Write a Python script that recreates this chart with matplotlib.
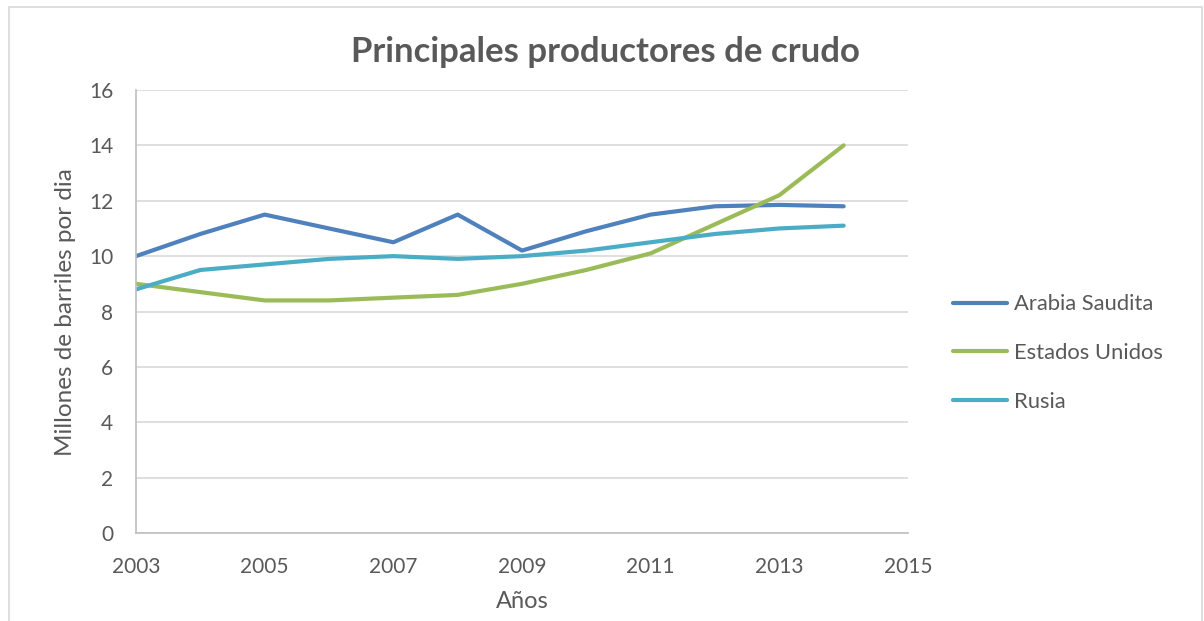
import matplotlib
matplotlib.use("Agg")
import matplotlib.pyplot as plt
from matplotlib.patches import Rectangle

# ---- data ----
years = [2003, 2004, 2005, 2006, 2007, 2008, 2009, 2010, 2011, 2012, 2013, 2014]
arabia = [10.0, 10.8, 11.5, 11.0, 10.5, 11.5, 10.2, 10.9, 11.5, 11.8, 11.85, 11.8]
eeuu = [9.0, 8.7, 8.4, 8.4, 8.5, 8.6, 9.0, 9.5, 10.1, 11.15, 12.2, 14.0]
rusia = [8.8, 9.5, 9.7, 9.9, 10.0, 9.9, 10.0, 10.2, 10.5, 10.8, 11.0, 11.1]
series_names = ["Arabia Saudita", "Estados Unidos", "Rusia"]
xticks = [2003, 2005, 2007, 2009, 2011, 2013, 2015]
yticks = [0, 2, 4, 6, 8, 10, 12, 14, 16]

plt.rcParams["font.family"] = ["Lato", "DejaVu Sans"]
txt = "#595959"

W, H = 1204, 621
fig = plt.figure(figsize=(W / 100, H / 100), dpi=100)

# chart border
fig.patches.append(Rectangle((9 / W, -0.05), (1202 - 9) / W, 1.05 - 7 / H,
                             transform=fig.transFigure, fill=False,
                             edgecolor="#D9D9D9", linewidth=1.2))

ax = fig.add_axes([136 / W, 1 - 533 / H, (908 - 136) / W, (533 - 90) / H])

colors = ["#4F81BD", "#9BBB59", "#4BACC6"]
for vals, name, c in zip([arabia, eeuu, rusia], series_names, colors):
    ax.plot(years, vals, color=c, linewidth=3, label=name, solid_capstyle="round")

ax.set_xlim(2003, 2015)
ax.set_ylim(0, 16)
ax.set_xticks(xticks)
ax.set_yticks(yticks)
ax.grid(axis="y", color="#D9D9D9", linewidth=1.2)
ax.set_axisbelow(True)
for s in ["top", "right"]:
    ax.spines[s].set_visible(False)
for s in ["left", "bottom"]:
    ax.spines[s].set_color("#BFBFBF")
    ax.spines[s].set_linewidth(1.2)
ax.tick_params(length=0, labelsize=15, colors=txt)
ax.tick_params(axis="y", pad=16.5)
ax.tick_params(axis="x", pad=17)

ax.set_xlabel("Años", fontsize=17, color=txt, va="center")
ax.xaxis.set_label_coords(522 / W, 1 - 601 / H, transform=fig.transFigure)
ax.set_ylabel("Millones de barriles por dia", fontsize=17.5, color=txt, va="center")
ax.yaxis.set_label_coords(66 / W, 1 - 312 / H, transform=fig.transFigure)

fig.text(605 / W, 1 - 52 / H, "Principales productores de crudo",
         ha="center", va="center", fontsize=25, fontweight="bold", color=txt)

leg = ax.legend(loc="center left", bbox_to_anchor=(953 / W, 1 - 353 / H),
                bbox_transform=fig.transFigure, frameon=False, borderpad=0,
                borderaxespad=0, fontsize=15.8, handlelength=2.46,
                labelspacing=1.3, handletextpad=0.3)
for t in leg.get_texts():
    t.set_color(txt)

fig.savefig("out.png", dpi=100)
